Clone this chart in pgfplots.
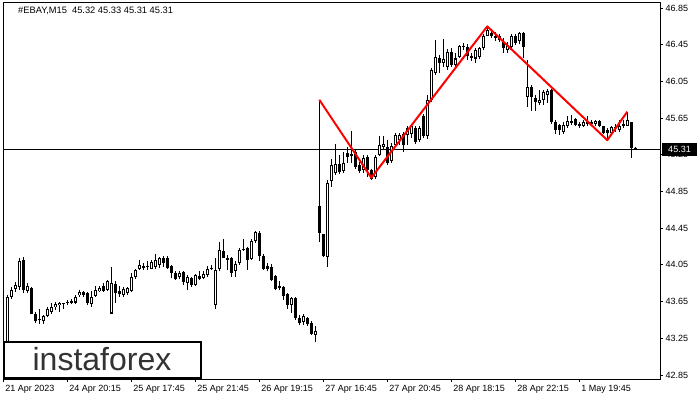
\documentclass[border=0pt]{standalone}
\usepackage{pgfplots}
\pgfplotsset{compat=1.18}
\usepackage{pgfplotstable}
\usepackage{fontspec}
\setmainfont{Liberation Sans}

\pgfplotstableread{
i o h l c
0 43.10 43.72 43.05 43.70
1 43.70 43.81 43.68 43.78
2 43.79 43.86 43.75 43.83
3 43.81 44.12 43.78 44.09
4 44.10 44.14 43.74 43.78
5 43.76 43.85 43.74 43.82
6 43.80 43.81 43.51 43.52
7 43.51 43.54 43.42 43.44
8 43.46 43.57 43.41 43.45
9 43.44 43.50 43.41 43.49
10 43.49 43.59 43.48 43.57
11 43.54 43.63 43.52 43.59
12 43.59 43.65 43.56 43.62
13 43.61 43.65 43.54 43.64
14 43.63 43.64 43.57 43.63
15 43.64 43.67 43.61 43.64
16 43.65 43.68 43.62 43.65
17 43.64 43.72 43.62 43.70
18 43.72 43.78 43.70 43.75
19 43.75 43.77 43.70 43.72
20 43.74 43.75 43.61 43.63
21 43.62 43.76 43.59 43.70
22 43.71 43.82 43.70 43.78
23 43.76 43.82 43.75 43.80
24 43.82 43.85 43.75 43.77
25 43.78 43.89 43.77 43.87
26 43.52 44.03 43.51 43.85
27 43.84 43.87 43.63 43.74
28 43.76 43.82 43.70 43.73
29 43.72 43.81 43.70 43.79
30 43.74 43.81 43.72 43.80
31 43.76 43.96 43.75 43.92
32 43.92 44.01 43.90 43.99
33 44.00 44.10 43.99 44.05
34 44.03 44.07 43.99 44.03
35 44.03 44.09 43.99 44.04
36 44.01 44.10 44.00 44.08
37 44.03 44.17 44.01 44.10
38 44.05 44.14 44.02 44.12
39 44.13 44.15 44.03 44.07
40 44.13 44.15 44.00 44.02
41 44.04 44.05 43.91 43.96
42 43.96 43.98 43.89 43.90
43 43.92 43.98 43.90 43.96
44 43.97 43.98 43.83 43.86
45 43.85 43.94 43.78 43.92
46 43.91 43.92 43.81 43.83
47 43.83 43.95 43.82 43.94
48 43.93 43.98 43.89 43.90
49 43.91 43.98 43.90 43.95
50 43.94 44.04 43.92 44.01
51 44.01 44.05 43.99 44.02
52 43.61 44.12 43.57 43.99
53 44.00 44.30 43.98 44.21
54 44.20 44.33 44.12 44.13
55 44.12 44.16 43.99 44.10
56 44.12 44.14 43.92 43.96
57 43.98 44.09 43.92 44.06
58 44.07 44.23 44.05 44.21
59 44.22 44.33 44.20 44.22
60 44.23 44.25 43.99 44.10
61 44.11 44.33 44.10 44.31
62 44.31 44.42 44.29 44.41
63 44.40 44.42 44.09 44.15
64 44.15 44.17 43.99 44.01
65 44.04 44.07 43.98 44.00
66 44.03 44.06 43.87 43.89
67 43.93 43.94 43.78 43.79
68 43.82 43.87 43.78 43.80
69 43.81 43.82 43.67 43.71
70 43.73 43.74 43.57 43.61
71 43.61 43.70 43.53 43.69
72 43.69 43.70 43.45 43.47
73 43.47 43.50 43.40 43.42
74 43.43 43.51 43.40 43.49
75 43.47 43.48 43.38 43.41
76 43.42 43.44 43.29 43.30
77 43.29 43.38 43.21 43.33
78 44.69 45.85 44.30 44.40
79 44.39 44.39 44.14 44.15
80 44.14 44.98 44.03 44.94
81 44.96 45.20 44.90 45.14
82 45.05 45.37 45.03 45.15
83 45.15 45.25 45.04 45.06
84 45.07 45.28 45.05 45.16
85 45.27 45.34 45.16 45.23
86 45.25 45.51 45.16 45.25
87 45.28 45.30 45.10 45.12
88 45.14 45.17 45.05 45.07
89 45.08 45.25 45.05 45.21
90 45.23 45.25 45.01 45.08
91 45.08 45.10 44.98 44.99
92 45.01 45.25 44.99 45.23
93 45.25 45.45 45.24 45.36
94 45.34 45.45 45.30 45.37
95 45.34 45.41 45.14 45.16
96 45.18 45.38 45.16 45.35
97 45.36 45.49 45.34 45.47
98 45.41 45.49 45.36 45.47
99 45.48 45.50 45.28 45.36
100 45.47 45.56 45.36 45.54
101 45.48 45.59 45.43 45.56
102 45.54 45.56 45.37 45.39
103 45.41 45.56 45.39 45.54
104 45.67 45.70 45.43 45.45
105 45.45 45.90 45.42 45.85
106 45.85 46.20 45.83 46.17
107 46.14 46.50 46.12 46.32
108 46.31 46.34 46.14 46.25
109 46.25 46.51 46.21 46.30
110 46.21 46.40 46.17 46.37
111 46.37 46.41 46.21 46.23
112 46.23 46.36 46.21 46.30
113 46.32 46.45 46.30 46.44
114 46.43 46.47 46.39 46.44
115 46.43 46.46 46.28 46.33
116 46.33 46.36 46.27 46.30
117 46.30 46.41 46.25 46.39
118 46.32 46.43 46.30 46.41
119 46.41 46.57 46.39 46.54
120 46.54 46.65 46.54 46.61
121 46.58 46.62 46.52 46.54
122 46.55 46.59 46.49 46.52
123 46.54 46.57 46.48 46.50
124 46.48 46.52 46.36 46.41
125 46.39 46.48 46.36 46.45
126 46.43 46.57 46.41 46.54
127 46.54 46.57 46.45 46.47
128 46.49 46.59 46.46 46.58
129 46.58 46.59 46.31 46.43
130 45.88 46.28 45.77 45.99
131 45.99 46.01 45.73 45.88
132 45.87 45.90 45.73 45.83
133 45.82 45.96 45.79 45.85
134 45.85 45.96 45.79 45.93
135 45.90 45.97 45.81 45.95
136 45.96 45.97 45.59 45.61
137 45.61 45.63 45.48 45.52
138 45.57 45.59 45.47 45.52
139 45.50 45.61 45.48 45.58
140 45.56 45.67 45.54 45.62
141 45.62 45.68 45.57 45.60
142 45.64 45.65 45.56 45.58
143 45.59 45.61 45.54 45.56
144 45.56 45.63 45.55 45.61
145 45.60 45.67 45.56 45.60
146 45.61 45.63 45.56 45.59
147 45.59 45.63 45.56 45.62
148 45.62 45.63 45.55 45.56
149 45.56 45.56 45.48 45.49
150 45.52 45.54 45.40 45.49
151 45.49 45.56 45.48 45.55
152 45.55 45.59 45.50 45.55
153 45.52 45.63 45.50 45.56
154 45.59 45.63 45.54 45.56
155 45.56 45.72 45.56 45.63
156 45.61 45.61 45.22 45.32
157 45.32 45.33 45.31 45.31
}\candles

\pgfplotstableread{
x y
78 45.85
91 45.00
120 46.65
150 45.41
155 45.72
}\pattern

\begin{document}
\begin{tikzpicture}
\begin{axis}[
  at={(0,0)}, anchor=south west,
  scale only axis, width=657bp, height=376bp,
  xmin=-1.075, xmax=163.175, ymin=42.806, ymax=46.905,
  axis line style={line width=1bp, black},
  tick align=outside, major tick length=3bp,
  tick style={black, line width=0.8bp},
  ytick pos=right, yticklabel pos=right,
  xtick pos=bottom,
  ytick={42.85,43.25,43.65,44.05,44.45,44.85,45.25,45.65,46.05,46.45,46.85},
  /pgf/number format/assume math mode=true,
  yticklabel style={/pgf/number format/fixed, /pgf/number format/fixed zerofill, /pgf/number format/precision=2, xshift=-1bp},
  xtick={-1,15,31,47,63,79,95,111,127,143},
  xticklabels={21 Apr 2023, 24 Apr 20:15, 25 Apr 17:45, 25 Apr 21:45, 26 Apr 19:15, 27 Apr 16:45, 27 Apr 20:45, 28 Apr 18:15, 28 Apr 22:15, 1 May 19:45},
  xticklabel style={anchor=north west, xshift=-1.5bp},
  tick label style={font=\fontsize{9bp}{11bp}\selectfont, black},
  clip=true,
]
% bid line
\addplot[black, line width=0.8bp] coordinates {(-2,45.31) (165,45.31)};
% wicks
\addplot[draw=none, mark=none, error bars/.cd, y dir=both, y explicit, error mark=none,
  error bar style={draw=black, line width=1bp}]
  table[x=i, y expr={(\thisrow{h}+\thisrow{l})/2}, y error expr={(\thisrow{h}-\thisrow{l})/2}] {\candles};
% bodies (outline / bearish fill)
\addplot[draw=none, mark=none, error bars/.cd, y dir=both, y explicit, error mark=none,
  error bar style={draw=black, line width=3bp}]
  table[x=i, y expr={(\thisrow{o}+\thisrow{c})/2}, y error expr={max(abs(\thisrow{c}-\thisrow{o})/2,0.006)}] {\candles};
% bullish interiors
\addplot[draw=none, mark=none, error bars/.cd, y dir=both, y explicit, error mark=none,
  error bar style={draw=white, line width=1bp}]
  table[x=i, y expr={(\thisrow{o}+\thisrow{c})/2}, y error expr={(\thisrow{c}>\thisrow{o})*max((\thisrow{c}-\thisrow{o})/2-0.011,0)}] {\candles};
% pattern line
\addplot[red, line width=2bp, line join=round] table[x=x, y=y] {\pattern};
\end{axis}
% title
\node[anchor=base west, inner sep=0pt, font=\fontsize{9.3bp}{11bp}\selectfont] at (15bp,365bp) {\#EBAY,M15\ \ 45.32 45.33 45.31 45.31};
% current price label
\fill[black] (658.5bp,223bp) rectangle (694bp,236bp);
\node[text=white, inner sep=0pt, font=\fontsize{9bp}{11bp}\selectfont] at (676.5bp,229.5bp) {45.31};
% logo box
\draw[line width=2bp, fill=white] (1bp,1bp) rectangle (198bp,37bp);
\node[anchor=base, inner sep=0pt, text=black!80, font=\fontsize{32bp}{32bp}\selectfont] at (99bp,9bp) {instaforex};
\pgfresetboundingbox
\path[use as bounding box] (-3bp,-21bp) rectangle (697bp,379bp);
\end{tikzpicture}
\end{document}
